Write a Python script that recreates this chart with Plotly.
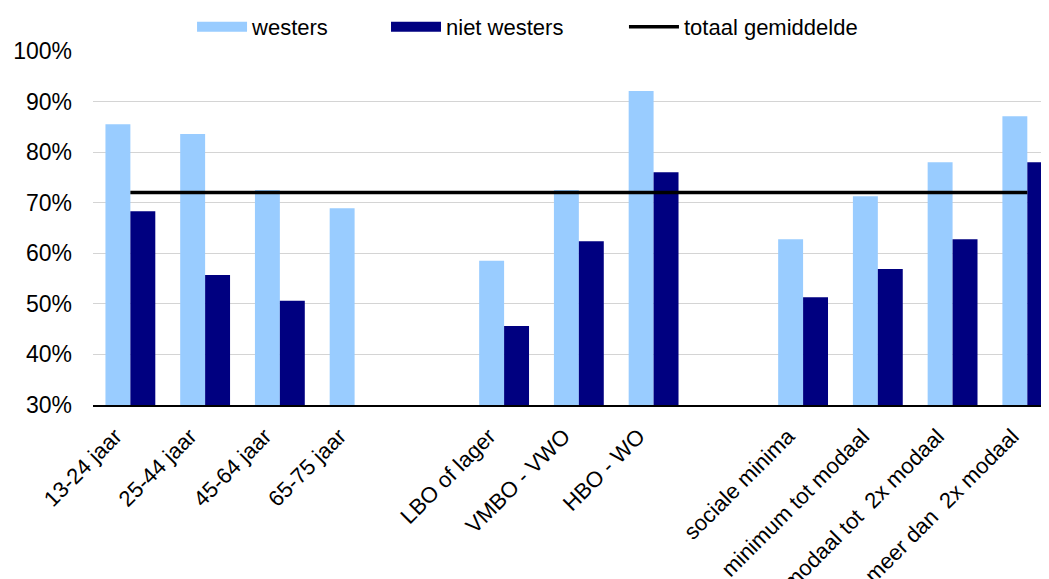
import plotly.graph_objects as go

categories = ["13-24 jaar", "25-44 jaar", "45-64 jaar", "65-75 jaar", " ",
              "LBO of lager", "VMBO - VWO", "HBO - WO", "  ",
              "sociale minima", "minimum tot modaal", "modaal tot  2x modaal",
              "meer dan  2x modaal"]
westers = [85.5, 83.6, 72.5, 68.9, None, 58.5, 72.5, 92.1, None, 62.8, 71.3, 78.0, 87.1]
niet_westers = [68.3, 55.7, 50.6, None, None, 45.6, 62.4, 76.0, None, 51.3, 56.9, 62.8, 78.0]
totaal_gemiddelde = [72.0] * len(categories)
y_ticks = [30, 40, 50, 60, 70, 80, 90, 100]
y_tick_labels = ["30%", "40%", "50%", "60%", "70%", "80%", "90%", "100%"]

FONT = "Liberation Sans, Arial, sans-serif"
C_WEST = "#99CCFF"
C_NIET = "#000080"

W, H = 1041, 571  # page body has an 8px margin

fig = go.Figure()
fig.add_trace(go.Bar(name="westers", x=categories, y=westers, showlegend=False,
                     legendgroup="w", marker=dict(color=C_WEST, line=dict(width=0))))
fig.add_trace(go.Bar(name="niet westers", x=categories, y=niet_westers, showlegend=False,
                     legendgroup="n", marker=dict(color=C_NIET, line=dict(width=0))))
fig.add_trace(go.Scatter(name="totaal gemiddelde", x=categories, y=totaal_gemiddelde,
                         mode="lines", line=dict(color="black", width=3.5), legend="legend3"))
# legend swatches drawn as wide rectangles (legend entries only)
fig.add_trace(go.Scatter(name="westers", x=[None], y=[None], mode="lines", legendgroup="w",
                         line=dict(color=C_WEST, width=16), legend="legend"))
fig.add_trace(go.Scatter(name="niet westers", x=[None], y=[None], mode="lines", legendgroup="n",
                         line=dict(color=C_NIET, width=16), legend="legend2"))

leg_common = dict(orientation="h", xanchor="left", yref="container",
                  y=1 - 19 / H, yanchor="middle", font=dict(size=22),
                  itemwidth=50, bgcolor="rgba(0,0,0,0)")

fig.update_layout(
    width=W, height=H,
    margin=dict(l=85, r=0, t=43, b=174, autoexpand=False),
    paper_bgcolor="white", plot_bgcolor="white",
    barmode="group", bargap=0.333, bargroupgap=0,
    font=dict(family=FONT, size=22, color="black"),
    legend=dict(x=0.1036, **leg_common),
    legend2=dict(x=0.3065, **leg_common),
    legend3=dict(x=0.5554, **leg_common),
    xaxis=dict(type="category", categoryorder="array", categoryarray=categories,
               range=[-0.5, 12.29], tickangle=-45, showgrid=False, automargin=False,
               showline=True, linecolor="black", linewidth=1.5,
               ticks="", tickfont=dict(size=22), ticklabelshift=-15,
               ticklabelstandoff=8, fixedrange=True),
    yaxis=dict(range=[30, 100], tickvals=y_ticks, ticktext=y_tick_labels, automargin=False,
               showgrid=True, gridcolor="#d4d4d4", gridwidth=1.3,
               showline=False, zeroline=False, ticks="",
               ticklabelstandoff=20, tickfont=dict(size=23), fixedrange=True),
)

fig.write_html("out.html")
